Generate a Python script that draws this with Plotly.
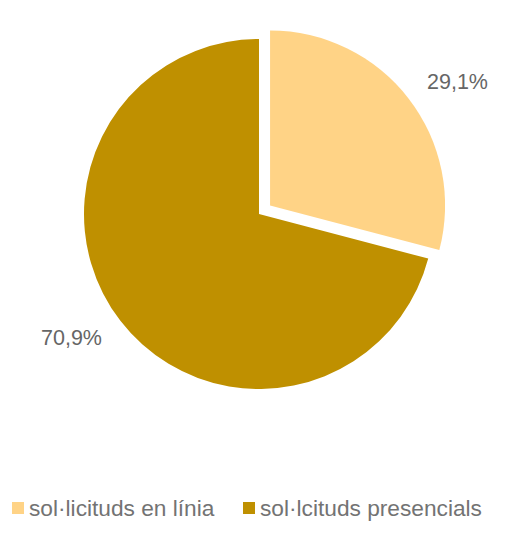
import math
import plotly.graph_objects as go

# ---- data ----
categories = ["sol·licituds en línia", "sol·lcituds presencials"]
values = [29.1, 70.9]
colors = ["#FFD386", "#BF9000"]
pulls = [0.08, 0.0]

# ---- layout helpers (window pixels; page body has an 8px margin) ----
OFF = 8
WIN_W, WIN_H = 523, 543
W, H = WIN_W - OFF, WIN_H - OFF


def fx(px):
    return (px - OFF) / W


def fy(py):
    return 1 - (py - OFF) / H


CX, CY, R = 259, 214, 175  # pie centre / radius in window pixels
max_pull = max(pulls)
half = R * (1 + max_pull)
dom_x = [fx(CX - half), fx(CX + half)]
dom_y = [fy(CY + half), fy(CY - half)]

FONT = "Liberation Sans, Arial, sans-serif"

fig = go.Figure(go.Pie(
    labels=categories,
    values=values,
    marker=dict(colors=colors, line=dict(width=0)),
    pull=pulls,
    sort=False,
    direction="clockwise",
    rotation=0,
    textinfo="none",
    hoverinfo="label+percent",
    domain=dict(x=dom_x, y=dom_y),
    showlegend=False,
))

# outside-end percentage labels computed from the data
total = sum(values)
cum = 0.0
annotations = []
shapes = []
for v, p in zip(values, pulls):
    mid = (cum + v / 2) / total * 2 * math.pi  # clockwise from 12 o'clock
    cum += v
    sx, sy = math.sin(mid), -math.cos(mid)
    ox, oy = CX + sx * p * R, CY + sy * p * R
    d = 1.12 * R
    px, py = ox + sx * d, oy + sy * d
    txt = f"{v / total * 100:.1f}".replace(".", ",") + "%"
    upper = sy <= 0
    annotations.append(dict(
        x=fx(px), y=fy(py), xref="paper", yref="paper",
        text=txt, showarrow=False,
        xanchor="left" if sx >= 0 else "right",
        yanchor="bottom" if upper else "top",
        yshift=-10 if upper else 10,
        font=dict(size=21.5, color="#666666", family=FONT),
    ))

# legend drawn manually (square swatch + label)
LEG_Y = 508
leg_x = [12, 243]
SW = 12
for cat, col, lx in zip(categories, colors, leg_x):
    shapes.append(dict(
        type="rect", xref="paper", yref="paper",
        x0=fx(lx), x1=fx(lx + SW), y0=fy(LEG_Y + SW / 2), y1=fy(LEG_Y - SW / 2),
        fillcolor=col, line=dict(width=0),
    ))
    annotations.append(dict(
        x=fx(lx + SW + 3), y=fy(LEG_Y), xref="paper", yref="paper",
        text=cat, showarrow=False, xanchor="left", yanchor="middle",
        font=dict(size=22.7, color="#737373", family=FONT),
    ))

fig.update_layout(
    width=W, height=H,
    margin=dict(l=0, r=0, t=0, b=0),
    paper_bgcolor="white",
    plot_bgcolor="white",
    font=dict(family=FONT, color="#666666", size=20),
    showlegend=False,
    annotations=annotations,
    shapes=shapes,
)

fig.write_html("out.html")
